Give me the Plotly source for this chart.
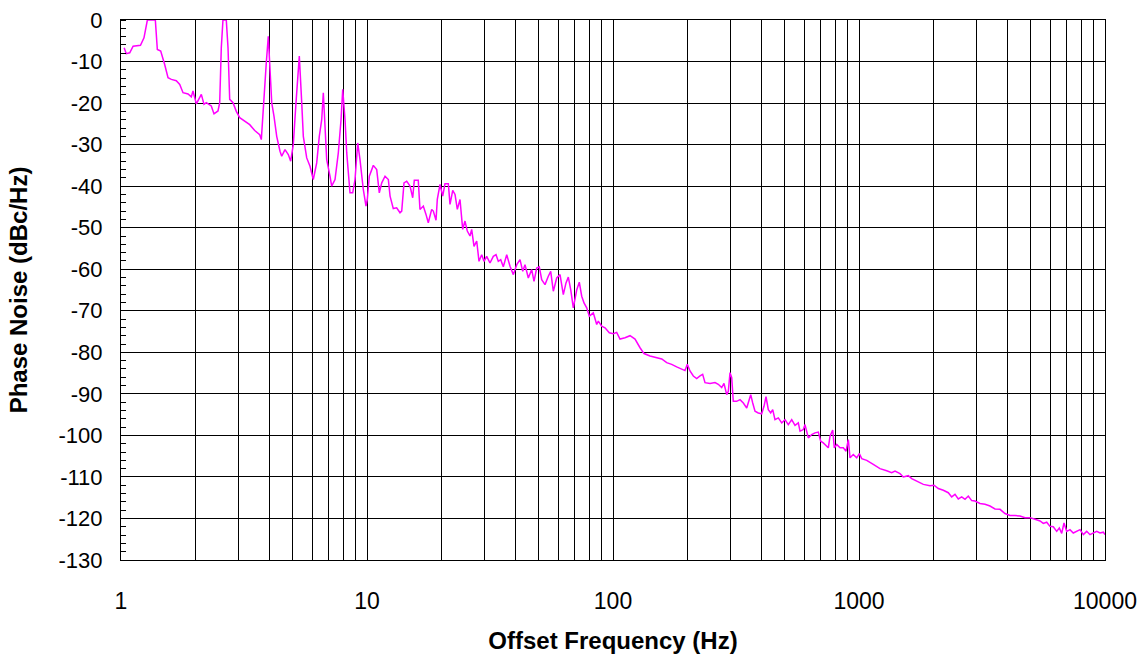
import plotly.graph_objects as go

# Offset frequency (Hz) and phase noise (dBc/Hz)
freq_hz = [
    1.03, 1.05, 1.085, 1.12, 1.20, 1.24, 1.28, 1.324, 1.379, 1.405, 1.45, 1.505, 1.553,
    1.602, 1.678, 1.733, 1.787, 1.873, 1.931, 1.962, 2.024, 2.121, 2.175, 2.222, 2.328,
    2.388, 2.479, 2.519, 2.557, 2.597, 2.679, 2.723, 2.766, 2.853, 2.943, 3.038, 3.183,
    3.336, 3.496, 3.663, 3.719, 3.778, 3.896, 3.970, 4.034, 4.099, 4.188, 4.295, 4.430,
    4.501, 4.642, 4.787, 4.895, 5.016, 5.145, 5.307, 5.428, 5.510, 5.688, 5.866, 6.049,
    6.245, 6.399, 6.545, 6.644, 6.750, 6.858, 7.072, 7.185, 7.413, 7.645, 7.842, 7.968,
    8.142, 8.272, 8.530, 8.749, 8.939, 9.168, 9.366, 9.517, 9.66, 9.906, 10.03, 10.22,
    10.61, 10.95, 11.22, 11.48, 11.84, 12.21, 12.41, 12.79, 13.20, 13.62, 13.84, 14.14,
    14.50, 14.96, 15.34, 15.57, 16.16, 16.42, 16.94, 17.37, 17.75, 18.32, 18.60, 19.08,
    19.31, 19.81, 20.31, 20.75, 21.41, 21.75, 22.31, 22.79, 23.29, 23.88, 24.49, 25.02,
    25.57, 26.22, 26.64, 27.23, 27.92, 28.53, 29.26, 29.89, 30.66, 31.62, 32.62, 33.46,
    34.18, 34.96, 35.82, 36.98, 38.14, 39.35, 40.62, 41.88, 42.96, 43.89, 45.26, 46.72,
    47.74, 48.96, 50.16, 51.31, 52.92, 54.58, 55.82, 57.20, 59.05, 60.91, 62.81, 64.41,
    65.82, 67.32, 68.97, 71.20, 72.95, 74.62, 76.24, 78.19, 80.12, 83.17, 85.86, 87.15,
    89.95, 92.79, 96.60, 100.3, 103.5, 106.8, 111.9, 117.3, 122.9, 128.8, 133.7, 141.4,
    150.6, 157.8, 165.3, 173.2, 181.5, 190.2, 196.2, 200.5, 205.6, 212.1, 218.9, 225.8,
    231.5, 236.6, 248.0, 259.8, 267.9, 276.6, 282.6, 289.9, 294.3, 299.0, 303.8, 308.3,
    318.3, 328.4, 338.7, 349.6, 357.2, 362.9, 369.8, 377.8, 389.6, 402.2, 410.9, 418.8,
    427.9, 437.6, 445.9, 455.5, 469.9, 485.1, 500.3, 516.0, 532.7, 549.4, 566.7, 575.8,
    593.8, 603.3, 622.2, 642.3, 662.4, 683.3, 698.8, 716.0, 739.2, 750.4, 762.4, 781.9,
    793.7, 811.7, 837.3, 863.6, 885.7, 904.9, 919.4, 948.0, 978.8, 1003, 1026, 1075,
    1143, 1217, 1296, 1358, 1401, 1468, 1514, 1586, 1638, 1716, 1826, 1944, 2018, 2101,
    2202, 2307, 2381, 2456, 2533, 2615, 2697, 2782, 2872, 2962, 3104, 3252, 3408, 3572,
    3743, 3922, 4110, 4307, 4513, 4729, 4956, 5193, 5442, 5613, 5794, 5976, 6163, 6363,
    6521, 6668, 6813, 6988, 7206, 7432, 7674, 7915, 8163, 8427, 8690, 8962, 9254, 9544,
    9842, 10000,
]
noise_dbc = [
    -6.7, -8.1, -7.9, -6.3, -6.1, -4.3, 0.0, 0.0, 0.0, -7.1, -7.5, -10.7, -13.9,
    -14.3, -14.6, -15.5, -17.5, -17.8, -18.5, -17.1, -20.2, -17.9, -20.3, -19.9, -20.7,
    -22.6, -21.9, -19.9, -6.7, 0.0, 0.0, -6.7, -19.1, -19.9, -22.0, -23.5, -24.4,
    -25.2, -26.6, -27.6, -28.8, -22.0, -10.3, -3.9, -11.9, -19.9, -23.2, -28.0, -31.6,
    -32.8, -31.2, -32.4, -34.0, -30.0, -19.9, -8.7, -19.9, -28.0, -33.2, -35.2, -38.4,
    -34.4, -28.0, -24.0, -17.5, -25.6, -33.6, -37.6, -40.0, -38.4, -32.0, -24.0, -16.7,
    -24.0, -32.0, -41.6, -41.6, -38.4, -29.6, -33.6, -38.4, -40.8, -44.8, -43.2, -37.6,
    -35.0, -36.0, -41.6, -39.2, -37.6, -38.4, -42.4, -45.4, -45.2, -46.4, -46.0, -39.2,
    -38.8, -40.0, -42.8, -38.6, -38.6, -45.6, -44.8, -46.8, -48.8, -45.6, -46.0, -48.2,
    -43.2, -39.6, -42.4, -39.4, -39.4, -44.4, -41.0, -42.0, -45.6, -43.2, -50.4, -48.4,
    -50.8, -52.0, -50.4, -54.5, -53.2, -58.1, -56.5, -58.1, -56.9, -58.5, -56.9, -56.5,
    -58.1, -57.7, -59.4, -56.5, -59.3, -61.3, -58.9, -57.7, -60.5, -58.9, -62.1, -60.1,
    -62.9, -59.7, -59.4, -62.5, -63.7, -61.7, -60.5, -65.3, -62.1, -61.3, -66.1, -63.3,
    -61.9, -64.9, -69.3, -65.0, -63.1, -66.5, -68.1, -69.3, -71.3, -70.5, -73.3, -72.5,
    -73.7, -74.1, -75.3, -75.5, -75.2, -76.8, -76.5, -76.0, -76.8, -78.9, -80.3, -80.9,
    -81.3, -81.6, -82.5, -82.9, -83.5, -84.0, -84.4, -82.9, -84.5, -85.7, -86.3, -85.7,
    -85.3, -87.3, -87.5, -87.3, -87.7, -88.5, -87.5, -90.2, -89.4, -84.9, -86.1, -91.8,
    -91.8, -91.4, -92.2, -93.4, -91.4, -90.2, -92.2, -94.2, -94.6, -94.8, -93.0, -90.7,
    -93.8, -94.6, -93.8, -96.2, -95.8, -97.0, -96.2, -97.4, -96.2, -97.6, -97.0, -99.0,
    -98.6, -97.4, -100.6, -99.8, -99.4, -99.2, -101.4, -101.8, -102.6, -103.0, -100.2, -98.7,
    -103.0, -102.2, -103.0, -103.0, -103.8, -101.0, -105.4, -104.6, -105.4, -104.4, -105.6, -106.0,
    -107.0, -108.0, -108.5, -109.0, -108.6, -109.2, -110.0, -109.7, -110.4, -111.0, -111.8, -112.1, -112.0, -112.8,
    -113.2, -113.8, -114.8, -114.2, -115.3, -114.8, -115.4, -114.6, -115.7, -115.8, -116.4, -116.6, -117.0, -117.7,
    -117.8, -118.8, -119.3, -119.3, -119.4, -119.8, -119.8, -120.2, -120.6, -121.2, -120.9, -121.9, -122.0, -123.1,
    -122.3, -123.6, -121.1, -123.1, -122.7, -123.5, -123.1, -122.7, -123.9, -123.1, -123.9, -123.5, -123.1, -123.5,
    -123.3, -123.9,
]

x_major = [1, 10, 100, 1000, 10000]
x_major_text = ["1", "10", "100", "1000", "10000"]
x_minor = [m * 10 ** k for k in range(4) for m in range(2, 10)]
y_major = list(range(0, -131, -10))
y_major_text = [str(v) for v in y_major]

FONT = "Liberation Sans, Arial, sans-serif"

fig = go.Figure()
fig.add_trace(go.Scatter(
    x=freq_hz, y=noise_dbc, mode="lines",
    line=dict(color="#FF00FF", width=1.5),
    showlegend=False,
))

fig.update_layout(
    width=1143, height=656,
    margin=dict(l=121, r=38, t=20, b=96, autoexpand=False),
    paper_bgcolor="white", plot_bgcolor="white",
    font=dict(family=FONT, color="black", size=22),
)
fig.update_xaxes(
    type="log", range=[0, 4], automargin=False,
    tickmode="array", tickvals=x_major, ticktext=x_major_text,
    showgrid=True, gridcolor="black", gridwidth=1,
    showline=True, linecolor="black", linewidth=1, mirror=True,
    ticks="", ticklabelstandoff=20,
    tickfont=dict(size=23, family=FONT),
    minor=dict(tickmode="array", tickvals=x_minor, showgrid=True,
               gridcolor="black", gridwidth=1, ticks=""),
    title=dict(text="<b>Offset Frequency (Hz)</b>", font=dict(size=24, family=FONT), standoff=19),
    zeroline=False,
)
fig.update_yaxes(
    range=[-130, 0], automargin=False,
    tickmode="array", tickvals=y_major, ticktext=y_major_text,
    showgrid=True, gridcolor="black", gridwidth=1,
    showline=True, linecolor="black", linewidth=1, mirror=True,
    ticks="", ticklabelstandoff=13,
    tickfont=dict(size=22, family=FONT),
    minor=dict(tickmode="linear", tick0=0, dtick=2, ticks="inside", ticklen=5,
               tickcolor="black", tickwidth=1, showgrid=False),
    title=dict(text="<b>Phase Noise (dBc/Hz)</b>", font=dict(size=24, family=FONT), standoff=24),
    zeroline=False,
)

fig.write_html("out.html")
